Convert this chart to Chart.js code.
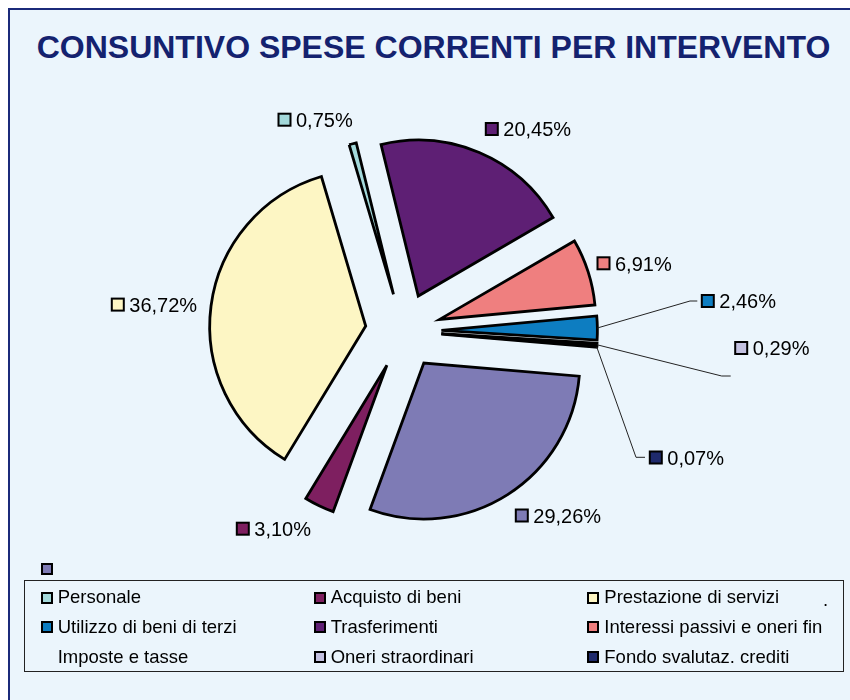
<!DOCTYPE html>
<html>
<head>
<meta charset="utf-8">
<script src="https://cdn.jsdelivr.net/npm/chart.js@4/dist/chart.umd.min.js"></script>
<style>
  html, body { margin: 0; padding: 0; }
  body { width: 850px; height: 700px; position: relative; overflow: hidden; background: #ffffff;
         font-family: "Liberation Sans", Arial, Helvetica, sans-serif; }
  #frame { position: absolute; left: 8px; top: 8px; width: 900px; height: 800px; box-sizing: border-box;
           border-left: 2px solid #1B2A7A; border-top: 2px solid #1B2A7A; background: #EBF5FC; }
  #title { position: absolute; left: 0; top: 27px; width: 867px; text-align: center; line-height: 40px;
           font-size: 32px; font-weight: bold; color: #14226F; white-space: nowrap; }
  #c { position: absolute; left: 0; top: 0; }
  #legend { position: absolute; left: 24px; top: 580px; width: 820px; height: 92px; box-sizing: border-box;
            border: 1px solid #222; }
  .lg-text { position: absolute; font-size: 18.5px; line-height: 20px; color: #000; white-space: nowrap; }
  .lg-mark { position: absolute; width: 12px; height: 12px; box-sizing: border-box; border: 2px solid #000; }
</style>
</head>
<body>
<div id="frame"></div>
<div id="title">CONSUNTIVO SPESE CORRENTI PER INTERVENTO</div>
<canvas id="c" width="850" height="700"></canvas>
<div id="lgwrap"></div>
<script>
// ---- data ----
const categories = [
  'Personale',
  'Acquisto di beni',
  'Prestazione di servizi',
  'Utilizzo di beni di terzi',
  'Trasferimenti',
  'Interessi passivi e oneri fin',
  'Imposte e tasse',
  'Oneri straordinari',
  'Fondo svalutaz. crediti'
];
const shares = [0.75, 3.10, 36.72, 2.46, 20.45, 6.91, 29.26, 0.29, 0.07];
// clockwise order in which the slices appear in the pie
const sliceOrder = [4, 5, 3, 7, 8, 6, 1, 2, 0];

// ---- styles ----
const colours = ['#A3D9DB', '#7E1F60', '#FDF6C4', '#0D7DC1', '#5E1F74', '#EF7F7F', '#7E7BB5', '#C3C1E1', '#1F2A6C'];
const startAngle = -13.8;
const explode = 38;
const pieRadius = 156;
// label anchor (left of text, vertical centre) relative to the pie centre
const labelOffsets = [
  [-107.4, -211.3],
  [-149.1, 197.7],
  [-274.1, -26.4],
  [315.9, -30],
  [99.9, -202],
  [211.6, -67.7],
  [129.9, 184.5],
  [349.3, 17],
  [263.9, 126.5]
];
const leaderPoints = {
  3: [[286.6, -30], [293.9, -30]],
  7: [[318.3, 45], [327.3, 45]],
  8: [[232.6, 126.3], [241.6, 126.3]]
};

const fmt = v => v.toFixed(2).replace('.', ',') + '%';

const explodePlugin = {
  id: 'explode',
  beforeDatasetDraw(chart, args) {
    args.meta.data.forEach(arc => {
      const mid = (arc.startAngle + arc.endAngle) / 2;
      arc._ox = arc.x; arc._oy = arc.y;
      arc.x += Math.cos(mid) * explode;
      arc.y += Math.sin(mid) * explode;
    });
  },
  afterDatasetDraw(chart, args) {
    args.meta.data.forEach(arc => { arc.x = arc._ox; arc.y = arc._oy; });
  }
};

const labelPlugin = {
  id: 'sliceLabels',
  afterDatasetsDraw(chart) {
    const ctx = chart.ctx;
    const meta = chart.getDatasetMeta(0);
    ctx.save();
    meta.data.forEach((arc, j) => {
      const k = sliceOrder[j];
      const cx = arc.x, cy = arc.y;
      const tx = cx + labelOffsets[k][0], ty = cy + labelOffsets[k][1];
      const lead = leaderPoints[k];
      if (lead) {
        const mid = (arc.startAngle + arc.endAngle) / 2;
        const r = arc.outerRadius + explode;
        ctx.beginPath();
        ctx.moveTo(cx + Math.cos(mid) * r, cy + Math.sin(mid) * r);
        lead.forEach(p => ctx.lineTo(cx + p[0], cy + p[1]));
        ctx.strokeStyle = '#222';
        ctx.lineWidth = 1;
        ctx.stroke();
      }
      ctx.fillStyle = colours[k];
      ctx.fillRect(tx - 17.5, ty - 6, 12, 12);
      ctx.lineWidth = 2;
      ctx.strokeStyle = '#000';
      ctx.strokeRect(tx - 17.5, ty - 6, 12, 12);
      ctx.fillStyle = '#000';
      ctx.font = '20px "Liberation Sans", Arial, sans-serif';
      ctx.textAlign = 'left';
      ctx.textBaseline = 'alphabetic';
      ctx.fillText(fmt(shares[k]), tx, ty + 7.2);
    });
    ctx.restore();
  }
};

new Chart(document.getElementById('c'), {
  type: 'pie',
  data: {
    labels: sliceOrder.map(i => categories[i]),
    datasets: [{
      data: sliceOrder.map(i => shares[i]),
      backgroundColor: sliceOrder.map(i => colours[i]),
      borderColor: '#000',
      borderWidth: 2.8,
      borderJoinStyle: 'miter',
      radius: pieRadius
    }]
  },
  options: {
    responsive: false,
    animation: false,
    events: [],
    rotation: startAngle,
    radius: pieRadius,
    layout: { padding: { left: 0, top: 0, right: 43.2, bottom: 38 } },
    plugins: { legend: { display: false }, tooltip: { enabled: false }, title: { display: false } }
  },
  plugins: [explodePlugin, labelPlugin]
});

// ---- legend (HTML) ----
(function () {
  const wrap = document.getElementById('lgwrap');
  const markX = [41, 314, 587.3];
  const textX = [57.7, 330.7, 604.3];
  const rowY = [596.7, 626.3, 656.3];
  categories.forEach((name, k) => {
    const col = k % 3, row = Math.floor(k / 3);
    const t = document.createElement('div');
    t.className = 'lg-text';
    t.textContent = name;
    t.style.left = textX[col] + 'px';
    t.style.top = (rowY[row] - 9.8) + 'px';
    wrap.appendChild(t);
    const m = document.createElement('div');
    m.className = 'lg-mark';
    m.style.background = colours[k];
    m.style.left = markX[col] + 'px';
    // the "Imposte e tasse" key sits above the box in the reference
    m.style.top = (name === 'Imposte e tasse' ? 563.3 : rowY[row] - 5) + 'px';
    wrap.appendChild(m);
  });
  const box = document.createElement('div');
  box.id = 'legend';
  wrap.appendChild(box);
  const dot = document.createElement('div');
  dot.className = 'lg-text';
  dot.textContent = '.';
  dot.style.left = '823px';
  dot.style.top = '590px';
  wrap.appendChild(dot);
})();
</script>
</body>
</html>
